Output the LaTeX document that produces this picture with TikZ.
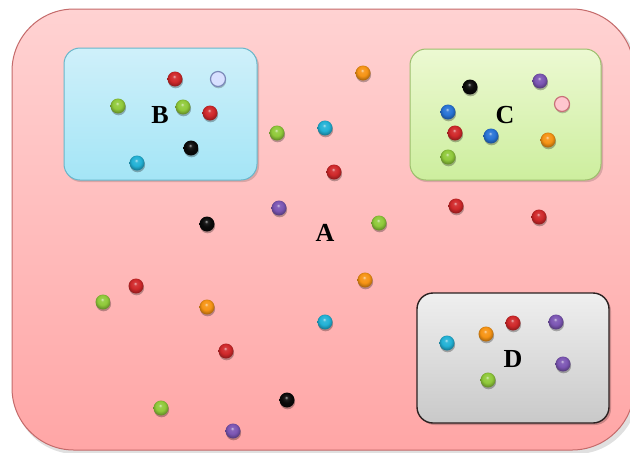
\documentclass[tikz,border=0pt]{standalone}
\usepackage{fontspec}
\setmainfont{Liberation Serif}
\usetikzlibrary{shadows}
\definecolor{outerTop}{HTML}{FFD2D2}
\definecolor{outerBot}{HTML}{FFA6A6}
\definecolor{outerLine}{HTML}{C46A6A}
\definecolor{bTop}{HTML}{CFF0FA}
\definecolor{bBot}{HTML}{A4E5F6}
\definecolor{bLine}{HTML}{68B6CA}
\definecolor{cTop}{HTML}{ECF9D2}
\definecolor{cBot}{HTML}{CDEE9E}
\definecolor{cLine}{HTML}{9CBE6C}
\definecolor{dTop}{HTML}{EFEFEF}
\definecolor{dBot}{HTML}{C9C9C9}
\definecolor{dLine}{HTML}{2A2020}
\definecolor{bRed}{HTML}{D0282A}
\definecolor{bGreen}{HTML}{90CA3A}
\definecolor{bCyan}{HTML}{22B2D6}
\definecolor{bBlack}{HTML}{0A0A0A}
\definecolor{bPurple}{HTML}{7C56B4}
\definecolor{bOrange}{HTML}{F79414}
\definecolor{bBlue}{HTML}{2874D6}
\definecolor{bPink}{HTML}{FFC6CE}
\definecolor{bPinkLine}{HTML}{C87078}
\definecolor{bLav}{HTML}{D8E0FF}
\definecolor{bLavLine}{HTML}{7A88B8}
\colorlet{myballc}{red}
\pgfdeclareradialshading[myballc]{myball}{\pgfqpoint{-3bp}{9bp}}{%
  color(0bp)=(myballc!35!white); color(6bp)=(myballc!92!white); color(16bp)=(myballc);
  color(26bp)=(myballc!72!black); color(50bp)=(myballc!72!black)}
\tikzset{
  x=0.5pt, y=-0.5pt,
  region/.style={rounded corners=#1, line width=0.5pt},
  myball color/.code={\colorlet{myballc}{#1}\tikzset{shading=myball}},
  ballst/.style={circle, inner sep=0pt, minimum size=7.5pt, myball color=#1,
    drop shadow={shadow xshift=0.3pt, shadow yshift=-0.9pt, opacity=0.28, fill=black}},
  flatball/.style 2 args={circle, inner sep=0pt, minimum size=7.5pt, fill=#1, draw=#2, line width=0.6pt,
    drop shadow={shadow xshift=0.3pt, shadow yshift=-0.9pt, opacity=0.22, fill=black}},
  lbl/.style={font=\fontsize{13}{15}\selectfont\bfseries, inner sep=0pt}
}
\begin{document}
\begin{tikzpicture}
\useasboundingbox (0,0) rectangle (630,452);
\clip (0,0) rectangle (630,452);
\fill[white] (0,0) rectangle (630,452);
% outer region A
\fill[black, opacity=0.12, rounded corners=31pt] (14,12) rectangle (638,454);
\draw[region=31pt, draw=outerLine, top color=outerTop, bottom color=outerBot] (12,9) rectangle (634,450);
% region B
\fill[black, opacity=0.15, rounded corners=8pt] (65,50) rectangle (259,182);
\draw[region=8pt, draw=bLine, top color=bTop, bottom color=bBot] (64,48) rectangle (257,180);
% region C
\fill[black, opacity=0.15, rounded corners=8pt] (411,51) rectangle (603,182);
\draw[region=8pt, draw=cLine, top color=cTop, bottom color=cBot] (410,49) rectangle (601,180);
% region D
\fill[black, opacity=0.2, rounded corners=8pt] (419,295) rectangle (611,425);
\draw[region=8pt, draw=dLine, top color=dTop, bottom color=dBot, line width=0.7pt] (417,293) rectangle (609,423);
% labels
\node[lbl] (labA) at (325,233) {A};
\node[lbl] (labB) at (160,115) {B};
\node[lbl] (labC) at (505,115) {C};
\node[lbl] (labD) at (513,359) {D};
% balls in B
\node[ballst=bRed] (b1) at (175,79) {};
\node[flatball={bLav}{bLavLine}] (b2) at (218,79) {};
\node[ballst=bGreen] (b3) at (118,106) {};
\node[ballst=bGreen] (b4) at (183,107) {};
\node[ballst=bRed] (b5) at (210,113) {};
\node[ballst=bBlack] (b6) at (191,148) {};
\node[ballst=bCyan] (b7) at (137,163) {};
% balls in C
\node[ballst=bBlack] (c1) at (470,87) {};
\node[ballst=bPurple] (c2) at (540,81) {};
\node[flatball={bPink}{bPinkLine}] (c3) at (562,104) {};
\node[ballst=bBlue] (c4) at (448,112) {};
\node[ballst=bRed] (c5) at (455,133) {};
\node[ballst=bBlue] (c6) at (491,136) {};
\node[ballst=bOrange] (c7) at (548,140) {};
\node[ballst=bGreen] (c8) at (448,157) {};
% balls in D
\node[ballst=bCyan] (d1) at (447,343) {};
\node[ballst=bOrange] (d2) at (486,334) {};
\node[ballst=bRed] (d3) at (513,323) {};
\node[ballst=bPurple] (d4) at (556,322) {};
\node[ballst=bPurple] (d5) at (563,364) {};
\node[ballst=bGreen] (d6) at (488,380) {};
% balls in A
\node[ballst=bOrange] (a1) at (363,73) {};
\node[ballst=bGreen] (a2) at (277,133) {};
\node[ballst=bCyan] (a3) at (325,128) {};
\node[ballst=bRed] (a4) at (334,172) {};
\node[ballst=bPurple] (a5) at (279,208) {};
\node[ballst=bBlack] (a6) at (207,224) {};
\node[ballst=bGreen] (a7) at (379,223) {};
\node[ballst=bRed] (a8) at (456,206) {};
\node[ballst=bRed] (a9) at (539,217) {};
\node[ballst=bRed] (a10) at (136,286) {};
\node[ballst=bGreen] (a11) at (103,302) {};
\node[ballst=bOrange] (a12) at (207,307) {};
\node[ballst=bOrange] (a13) at (365,280) {};
\node[ballst=bCyan] (a14) at (325,322) {};
\node[ballst=bRed] (a15) at (226,351) {};
\node[ballst=bGreen] (a16) at (161,408) {};
\node[ballst=bBlack] (a17) at (287,400) {};
\node[ballst=bPurple] (a18) at (233,431) {};
\end{tikzpicture}
\end{document}
